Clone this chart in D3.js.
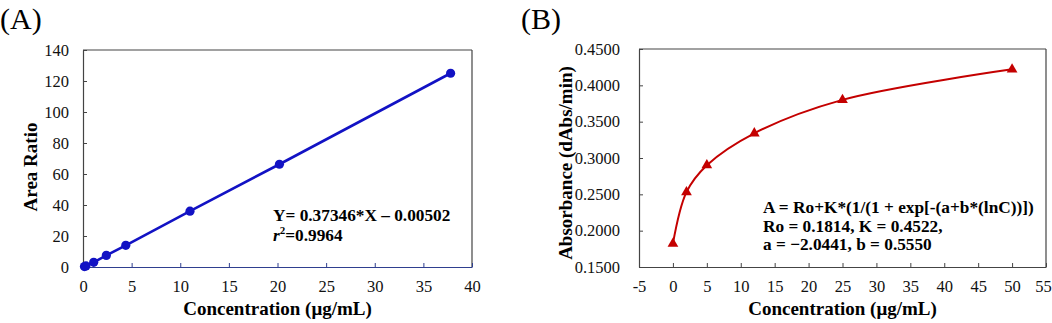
<!DOCTYPE html>
<html lang="en">
<head>
<meta charset="UTF-8">
<title>Calibration curves</title>
<script src="https://d3js.org/d3.v7.min.js"></script>
<style>
  body { margin: 0; background: #fff; }
  svg text { font-family: "Times New Roman", "Liberation Serif", serif; }
</style>
</head>
<body>
<svg width="1052" height="323"></svg>
<script>
// panel A data
const concA = [0.15, 0.3, 1.1, 2.4, 4.4, 11.0, 20.2, 37.8];
const ratioA = [0.3, 0.7, 3.0, 7.5, 14.0, 36.0, 66.3, 125.0];
const xTicksA = [0, 5, 10, 15, 20, 25, 30, 35, 40];
const yTicksA = [0, 20, 40, 60, 80, 100, 120, 140];

// panel B data
const concB = [0, 2, 5, 12, 25, 50];
const absB = [0.182, 0.253, 0.290, 0.334, 0.380, 0.422];
const xTicksB = [-5, 0, 5, 10, 15, 20, 25, 30, 35, 40, 45, 50, 55];
const yTicksB = [0.15, 0.20, 0.25, 0.30, 0.35, 0.40, 0.45];

const svg = d3.select("svg");
const blue = "#1212c4";
const red = "#c40000";
const frame = "#444";

function panel(opt) {
    const g = svg.append("g");
    const x = d3.scaleLinear().domain(opt.xDomain).range([opt.left, opt.right]);
    const y = d3.scaleLinear().domain(opt.yDomain).range([opt.bottom, opt.top]);

    // frame: top & right
    g.append("line").attr("x1", opt.left).attr("x2", opt.right).attr("y1", opt.top).attr("y2", opt.top)
        .attr("stroke", frame).attr("stroke-width", 1.2);
    g.append("line").attr("x1", opt.right).attr("x2", opt.right).attr("y1", opt.top).attr("y2", opt.bottom)
        .attr("stroke", frame).attr("stroke-width", 1.2);

    const xAxis = g.append("g").attr("transform", `translate(0,${opt.bottom})`)
        .call(d3.axisBottom(x).tickValues(opt.xTicks).tickSizeInner(-4).tickSizeOuter(0).tickPadding(13)
            .tickFormat(opt.xFmt));
    xAxis.attr("font-family", null);
    xAxis.select(".domain").attr("stroke", opt.xAxisColor).attr("stroke-width", 1.2);
    xAxis.selectAll(".tick line").attr("stroke", opt.xAxisColor);
    xAxis.selectAll("text").attr("font-size", 16.5).attr("fill", "#111");

    const yAxis = g.append("g").attr("transform", `translate(${opt.left},0)`)
        .call(d3.axisLeft(y).tickValues(opt.yTicks).tickSizeInner(-4).tickSizeOuter(0).tickPadding(opt.yPad)
            .tickFormat(opt.yFmt));
    yAxis.attr("font-family", null);
    yAxis.select(".domain").attr("stroke", frame).attr("stroke-width", 1.2);
    yAxis.selectAll(".tick line").attr("stroke", frame);
    yAxis.selectAll("text").attr("font-size", 16.5).attr("fill", "#111");

    // titles
    g.append("text").attr("x", (opt.left + opt.right) / 2).attr("y", 315)
        .attr("text-anchor", "middle").attr("font-weight", "bold").attr("font-size", 19)
        .text("Concentration (μg/mL)");
    g.append("text").attr("transform", `translate(${opt.yTitleX},${opt.yTitleY}) rotate(-90)`)
        .attr("text-anchor", "middle").attr("font-weight", "bold").attr("font-size", 19)
        .text(opt.yTitle);
    g.append("text").attr("x", opt.labelX).attr("y", 29).attr("font-size", 30)
        .text(opt.label);

    return { g, x, y, xAxis };
}

// ---- panel A ----
const A = panel({
    xDomain: [0, 40], yDomain: [0, 140],
    left: 83, right: 472, top: 50, bottom: 267,
    xTicks: xTicksA, yTicks: yTicksA,
    xFmt: d3.format("d"), yFmt: d3.format("d"), yPad: 14,
    xAxisColor: "#2f3f8f",
    yTitle: "Area Ratio", yTitleX: 37, yTitleY: 167,
    label: "(A)", labelX: 0
});
const ptsA = concA.map((c, i) => [c, ratioA[i]]);
A.g.append("path").datum(ptsA)
    .attr("fill", "none").attr("stroke", blue).attr("stroke-width", 2.6)
    .attr("d", d3.line().x(d => A.x(d[0])).y(d => A.y(d[1])));
A.g.selectAll("circle.pt").data(ptsA).join("circle")
    .attr("cx", d => A.x(d[0])).attr("cy", d => A.y(d[1])).attr("r", 4.6)
    .attr("fill", blue);
A.g.append("text").attr("x", 273).attr("y", 221).attr("font-weight", "bold").attr("font-size", 17.3)
    .text("Y= 0.37346*X \u2013 0.00502");
const r2 = A.g.append("text").attr("x", 273).attr("y", 241).attr("font-weight", "bold").attr("font-size", 17.3);
r2.append("tspan").attr("font-style", "italic").text("r");
r2.append("tspan").attr("font-size", 11).attr("dy", -7).text("2");
r2.append("tspan").attr("dy", 7).text("=0.9964");

// ---- panel B ----
const B = panel({
    xDomain: [-5, 55], yDomain: [0.15, 0.45],
    left: 639, right: 1046, top: 49, bottom: 267,
    xTicks: xTicksB, yTicks: yTicksB,
    xFmt: d => String(d), yFmt: d => d.toFixed(4), yPad: 19,
    xAxisColor: frame,
    yTitle: "Absorbance (dAbs/min)", yTitleX: 572, yTitleY: 163,
    label: "(B)", labelX: 521
});
// keep the last tick label ("55") inside the window
B.xAxis.selectAll(".tick text").filter(d => d === 55).attr("dx", -3);

const ptsB = concB.map((c, i) => [c, absB[i]]);
B.g.append("path").datum(ptsB)
    .attr("fill", "none").attr("stroke", red).attr("stroke-width", 2)
    .attr("d", d3.line().curve(d3.curveCatmullRom.alpha(0.5)).x(d => B.x(d[0])).y(d => B.y(d[1])));
B.g.selectAll("path.tri").data(ptsB).join("path")
    .attr("transform", d => `translate(${B.x(d[0])},${B.y(d[1])})`)
    .attr("d", d3.symbol(d3.symbolTriangle, 50))
    .attr("fill", red);
const eqB = [
    "A = Ro+K*(1/(1 + exp[-(a+b*(lnC))])",
    "Ro = 0.1814, K = 0.4522,",
    "a = \u22122.0441, b = 0.5550"
];
B.g.selectAll("text.eq").data(eqB).join("text")
    .attr("x", 763).attr("y", (d, i) => 213 + i * 18.5)
    .attr("font-weight", "bold").attr("font-size", 17.3)
    .text(d => d);
</script>
</body>
</html>
